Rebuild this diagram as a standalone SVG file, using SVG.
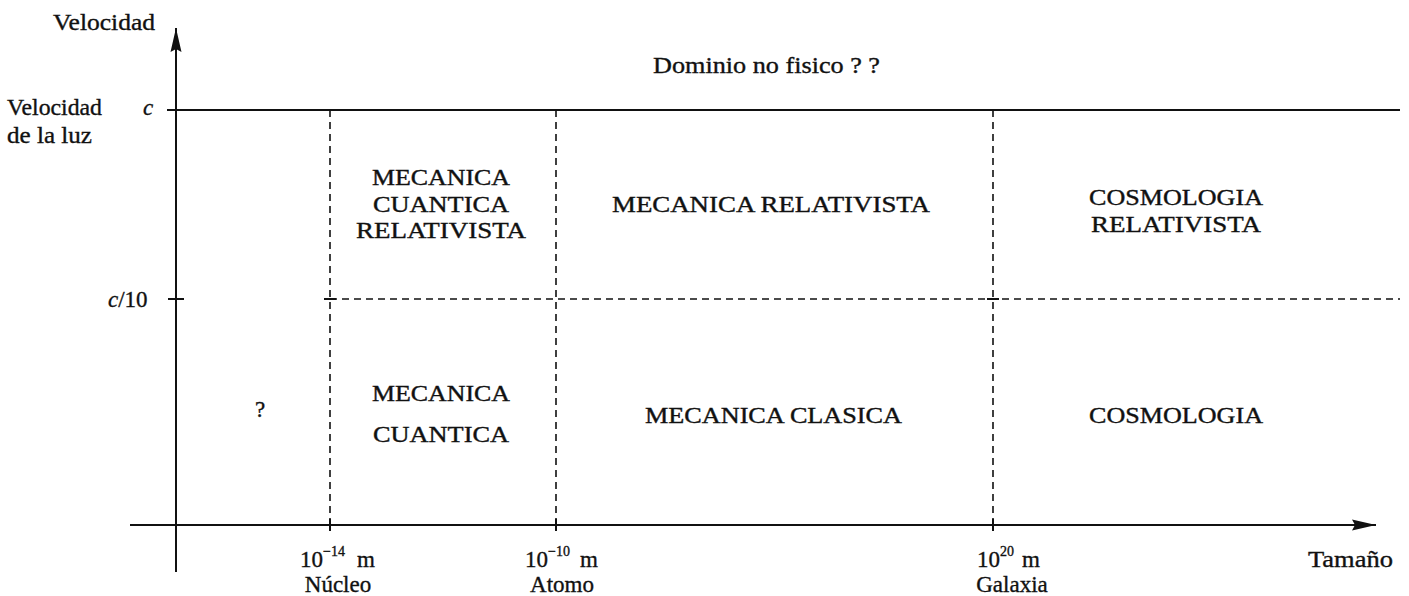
<svg xmlns="http://www.w3.org/2000/svg" width="1409" height="596" viewBox="0 0 1409 596">
<style>
.t{font-family:"Liberation Serif","Times New Roman",serif;font-size:23px;fill:#111111;stroke:#111111;stroke-width:0.35}
.cap{font-family:"Liberation Serif","Times New Roman",serif;font-size:24px;fill:#111111;stroke:#111111;stroke-width:0.4}
.it{font-style:italic}
.sup{font-size:14px}
.ax{stroke:#111111;stroke-width:2;fill:none}
.dash{stroke:#111111;stroke-width:1.6;stroke-dasharray:7 5;fill:none}
</style>
<defs>
<marker id="arr" viewBox="0 0 24 12" refX="24" refY="6" markerWidth="24" markerHeight="12" markerUnits="userSpaceOnUse" orient="auto">
<path d="M0,0.5 L24,6 L0,11.5 L3,6 Z" fill="#111111"/>
</marker>
</defs>
<rect width="1409" height="596" fill="#ffffff"/>
<g id="connectors">
<line class="ax" x1="176" y1="572" x2="176" y2="28" marker-end="url(#arr)"/>
<line class="ax" x1="130" y1="525" x2="1376" y2="525" marker-end="url(#arr)"/>
<line class="ax" x1="167" y1="110" x2="1400" y2="110"/>
<line class="ax" x1="168" y1="299" x2="184" y2="299" stroke-width="1.6"/>
<line class="dash" x1="330" y1="299" x2="1400" y2="299"/>
<line class="dash" x1="330" y1="110" x2="330" y2="525"/>
<line class="dash" x1="556" y1="110" x2="556" y2="525"/>
<line class="dash" x1="993" y1="110" x2="993" y2="525"/>
<line class="ax" x1="330" y1="519" x2="330" y2="531" stroke-width="1.6"/>
<line class="ax" x1="556" y1="519" x2="556" y2="531" stroke-width="1.6"/>
<line class="ax" x1="993" y1="519" x2="993" y2="531" stroke-width="1.6"/>
<line class="ax" x1="324" y1="299" x2="336" y2="299" stroke-width="1.6"/>
<line class="ax" x1="987" y1="299" x2="999" y2="299" stroke-width="1.6"/>
</g>
<g id="axis-labels">
<text class="t" x="53" y="30" textLength="102" lengthAdjust="spacingAndGlyphs">Velocidad</text>
<text class="t" x="7" y="115" textLength="95" lengthAdjust="spacingAndGlyphs">Velocidad</text>
<text class="t" x="7" y="143" textLength="85" lengthAdjust="spacingAndGlyphs">de la luz</text>
<text class="t it" x="143" y="115">c</text>
<text class="t" x="108" y="307"><tspan class="it">c</tspan>/10</text>
<text class="t" x="1308" y="567" textLength="85" lengthAdjust="spacingAndGlyphs">Tamaño</text>
<text class="t" x="300" y="567">10<tspan class="sup" x="323" dy="-11">−14</tspan><tspan x="357" dy="11">m</tspan></text>
<text class="t" x="338" y="592" text-anchor="middle">Núcleo</text>
<text class="t" x="525" y="567">10<tspan class="sup" x="548" dy="-11">−10</tspan><tspan x="580" dy="11">m</tspan></text>
<text class="t" x="562" y="592" text-anchor="middle">Atomo</text>
<text class="t" x="977" y="567">10<tspan class="sup" x="1000" dy="-11">20</tspan><tspan x="1022" dy="11">m</tspan></text>
<text class="t" x="1012" y="592" text-anchor="middle">Galaxia</text>
</g>
<g id="node-dominio">
<text class="t" x="653" y="73" textLength="227" lengthAdjust="spacingAndGlyphs">Dominio no fisico ? ?</text>
</g>
<g id="node-mcr">
<text class="cap" x="441" y="185" text-anchor="middle" textLength="138" lengthAdjust="spacingAndGlyphs">MECANICA</text>
<text class="cap" x="441" y="212" text-anchor="middle" textLength="136" lengthAdjust="spacingAndGlyphs">CUANTICA</text>
<text class="cap" x="441" y="238" text-anchor="middle" textLength="170" lengthAdjust="spacingAndGlyphs">RELATIVISTA</text>
</g>
<g id="node-mr">
<text class="cap" x="612" y="212" textLength="318" lengthAdjust="spacingAndGlyphs">MECANICA RELATIVISTA</text>
</g>
<g id="node-cr">
<text class="cap" x="1176" y="205" text-anchor="middle" textLength="174" lengthAdjust="spacingAndGlyphs">COSMOLOGIA</text>
<text class="cap" x="1176" y="232" text-anchor="middle" textLength="170" lengthAdjust="spacingAndGlyphs">RELATIVISTA</text>
</g>
<g id="node-q">
<text class="t" x="255" y="417">?</text>
</g>
<g id="node-mc">
<text class="cap" x="441" y="401" text-anchor="middle" textLength="138" lengthAdjust="spacingAndGlyphs">MECANICA</text>
<text class="cap" x="441" y="442" text-anchor="middle" textLength="136" lengthAdjust="spacingAndGlyphs">CUANTICA</text>
</g>
<g id="node-mcl">
<text class="cap" x="645" y="423" textLength="257" lengthAdjust="spacingAndGlyphs">MECANICA CLASICA</text>
</g>
<g id="node-cos">
<text class="cap" x="1176" y="423" text-anchor="middle" textLength="174" lengthAdjust="spacingAndGlyphs">COSMOLOGIA</text>
</g>
</svg>
